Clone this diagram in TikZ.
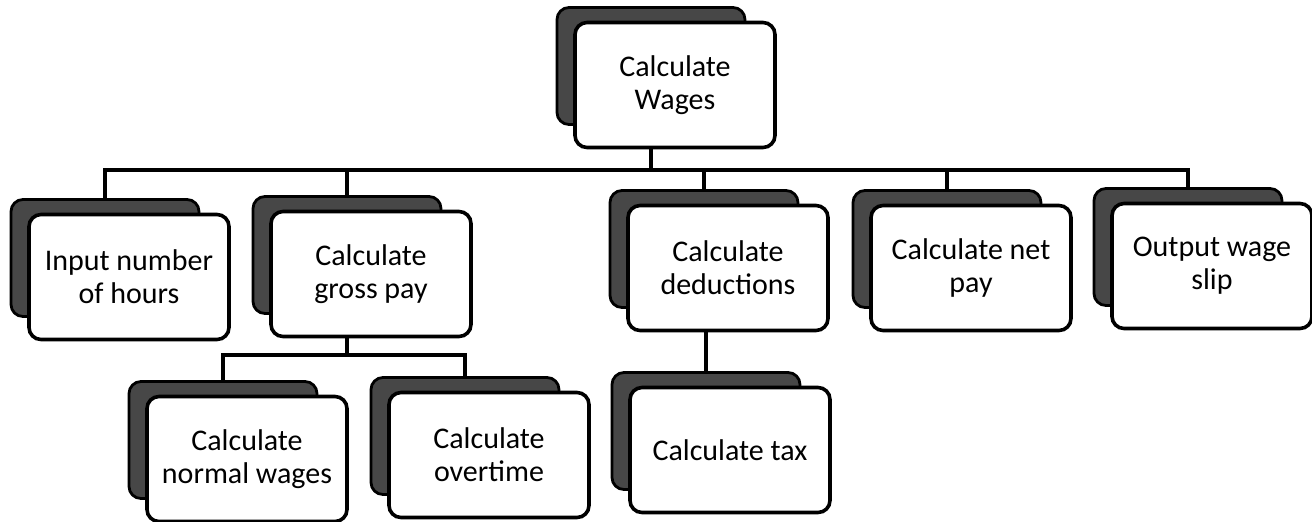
\documentclass[tikz,border=0pt]{standalone}
\usepackage{fontspec}
\setmainfont{Carlito}
\newcommand\mybox[4]{%
  \node[backbox] (#1B) at (#2-24,#3-19) {};
  \node[frontbox] (#1) at (#2,#3) {#4};}
\begin{document}
\begin{tikzpicture}[x=0.5pt,y=-0.5pt,
  frontbox/.style={draw=black, line width=1.8pt, rounded corners=6pt, fill=white,
    minimum width=100pt, minimum height=62.5pt, align=center, inner sep=0pt,
    font=\fontsize{15}{16.5}\selectfont},
  backbox/.style={draw=black, line width=1.4pt, rounded corners=6pt, fill=black!72,
    minimum width=94pt, minimum height=58.5pt, inner sep=0pt},
  conn/.style={line width=2.2pt}]
\useasboundingbox (0,0) rectangle (1312,521);
\fill[white] (0,0) rectangle (1312,521);

\mybox{top}{675}{85}{Calculate\\Wages}
\mybox{input}{129}{277}{Input number\\of hours}
\mybox{gross}{371}{274}{Calculate\\gross pay}
\mybox{ded}{728}{268}{Calculate\\deductions}
\mybox{net}{971}{268}{Calculate net\\pay}
\mybox{out}{1212}{266}{Output wage\\slip}
\mybox{normal}{247}{459}{Calculate\\normal wages}
\mybox{over}{489}{455}{Calculate\\overtime}
\mybox{tax}{730}{450}{Calculate tax}

\coordinate (bus) at (651,170);
\draw[conn] (top.south -| bus) -- (bus);
\foreach \n in {input,gross,ded,net,out}
  \draw[conn] (bus) -| (\n B.north);

\coordinate (gbus) at (347,355);
\draw[conn] (gross.south -| gbus) -- (gbus);
\draw[conn] (gbus) -| (normalB.north);
\draw[conn] (gbus) -| (overB.north);

\draw[conn] (ded.south -| taxB.north) -- (taxB.north);
\end{tikzpicture}
\end{document}
